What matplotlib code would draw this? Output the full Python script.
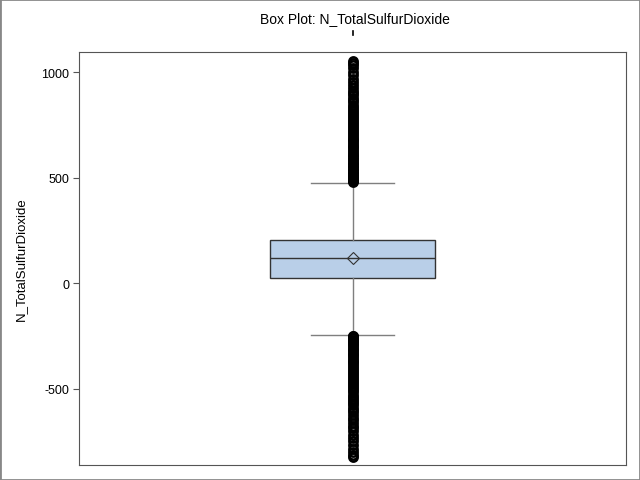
import matplotlib.pyplot as plt
import matplotlib.lines as mlines

# ===== DATA =====
label = "N_TotalSulfurDioxide"
q1, median, q3 = 26, 120, 206
mean = 120
whislo, whishi = -246, 476

upper_out = [481, 484, 488, 492, 497, 503, 509, 514, 521, 528, 534, 541, 549, 556,
             563, 571, 578, 586, 594, 601, 609, 618, 626, 634, 643, 651, 659, 668,
             676, 685, 694, 703, 712, 721, 731, 740, 749, 758, 768, 777, 787, 796,
             806, 816, 826, 836, 846, 857, 867, 878, 889, 900, 912, 924, 937, 951,
             968, 985, 1002, 1018, 1032, 1045, 1052]
lower_out = [-249, -253, -257, -262, -268, -274, -281, -288, -295, -302, -310, -318,
             -326, -334, -342, -350, -359, -367, -376, -385, -394, -403, -412, -421,
             -430, -440, -449, -459, -468, -478, -488, -498, -508, -518, -528, -538,
             -548, -559, -569, -580, -591, -602, -613, -625, -637, -649, -662, -675,
             -689, -703, -718, -734, -750, -768, -785, -800, -814, -826]

yticks = [-500, 0, 500, 1000]

# ===== PLOT =====
fig = plt.figure(figsize=(6.4, 4.81), dpi=100)
plt.rcParams['font.family'] = ['Liberation Sans', 'DejaVu Sans']
ax = fig.add_axes([79 / 640, 15 / 481, 547 / 640, 413 / 481])

stats = [dict(med=median, q1=q1, q3=q3, whislo=whislo, whishi=whishi,
              mean=mean, fliers=upper_out + lower_out, label=label)]
ax.bxp(stats, positions=[0.5], widths=0.3, capwidths=0.15, showmeans=True,
       patch_artist=True,
       boxprops=dict(facecolor="#b9cfe8", edgecolor="#333333", linewidth=1),
       medianprops=dict(color="#333333", linewidth=1),
       whiskerprops=dict(color="#7f7f7f", linewidth=1),
       capprops=dict(color="#7f7f7f", linewidth=1),
       flierprops=dict(marker="o", markerfacecolor="none", markeredgecolor="black",
                       markersize=6, markeredgewidth=1.8),
       meanprops=dict(marker="D", markerfacecolor="none", markeredgecolor="#333333",
                      markersize=6, markeredgewidth=0.8))

ax.set_xlim(0, 1)
ax.set_ylim(-862, 1095)
ax.set_xticks([])
ax.set_yticks(yticks)
ax.set_yticklabels([str(v) for v in yticks], fontsize=9)
ax.tick_params(axis="y", length=4, color="#555555", pad=3)
ax.set_ylabel(label, fontsize=9.5, labelpad=10)
for s in ax.spines.values():
    s.set_color("#555555")

fig.text(355 / 640, 1 - 19 / 481, "Box Plot: " + label, ha="center", va="center",
         fontsize=10)
fig.add_artist(mlines.Line2D([353 / 640, 353 / 640], [1 - 32 / 481, 1 - 36 / 481],
                             color="black", linewidth=1.2))
fig.add_artist(plt.Rectangle((0, 0), 1, 1, transform=fig.transFigure, fill=False,
                             edgecolor="#888888", linewidth=2))

fig.savefig("out.png", dpi=100)
